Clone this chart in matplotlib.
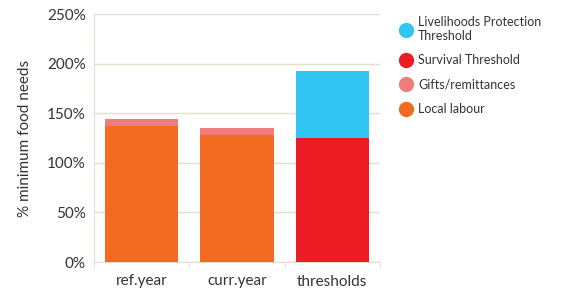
import numpy as np
import matplotlib.pyplot as plt
from matplotlib.lines import Line2D

plt.rcParams['font.family'] = ['Lato', 'DejaVu Sans']

categories = ['ref.year', 'curr.year', 'thresholds']
local_labour = [137, 128, 0]
gifts = [7, 7, 0]
survival = [0, 0, 125]
livelihoods = [0, 0, 68]

c_labour = '#F26B21'
c_gifts = '#F07C7C'
c_surv = '#ED1C24'
c_lpt = '#31C5F3'
grid_c = '#E3DFCC'
text_c = '#333333'

fig = plt.figure(figsize=(5.61, 2.93), dpi=100)
ax = fig.add_axes([94 / 561, 31 / 293, 286 / 561, 248 / 293])

x = np.arange(len(categories))
w = 0.77
b = np.zeros(len(categories))
for vals, col in [(local_labour, c_labour), (gifts, c_gifts),
                  (survival, c_surv), (livelihoods, c_lpt)]:
    ax.bar(x, vals, w, bottom=b, color=col, zorder=3)
    b = b + np.array(vals)

ax.set_xlim(-0.5, 2.5)
ax.set_ylim(0, 250)
ax.set_yticks(np.arange(0, 251, 50))
ax.set_yticklabels([f'{v}%' for v in range(0, 251, 50)])
ax.yaxis.grid(True, color=grid_c, linewidth=1, zorder=0)
ax.set_xticks(x)
ax.set_xticklabels(categories)
ax.set_xticks([-0.5, 0.5, 1.5, 2.5], minor=True)
ax.tick_params(axis='x', which='major', length=0, pad=9, labelsize=11, labelcolor=text_c)
ax.tick_params(axis='x', which='minor', length=4, color=grid_c)
ax.tick_params(axis='y', length=0, pad=6, labelsize=11, labelcolor=text_c)
for s in ['top', 'right']:
    ax.spines[s].set_visible(False)
for s in ['left', 'bottom']:
    ax.spines[s].set_color(grid_c)
ax.set_ylabel('% minimum food needs', fontsize=11, color=text_c, labelpad=11)

handles = [Line2D([], [], marker='o', linestyle='', markersize=10, color=c)
           for c in [c_lpt, c_surv, c_gifts, c_labour]]
labels = ['Livelihoods Protection\nThreshold', 'Survival Threshold',
          'Gifts/remittances', 'Local labour']
fig.legend(handles, labels, loc='upper left', bbox_to_anchor=(388 / 561, 1 - 5 / 293),
           frameon=False, fontsize=9, labelcolor=text_c, handletextpad=0.4,
           handlelength=1.1, labelspacing=0.98)

fig.savefig('out.png', dpi=100)
